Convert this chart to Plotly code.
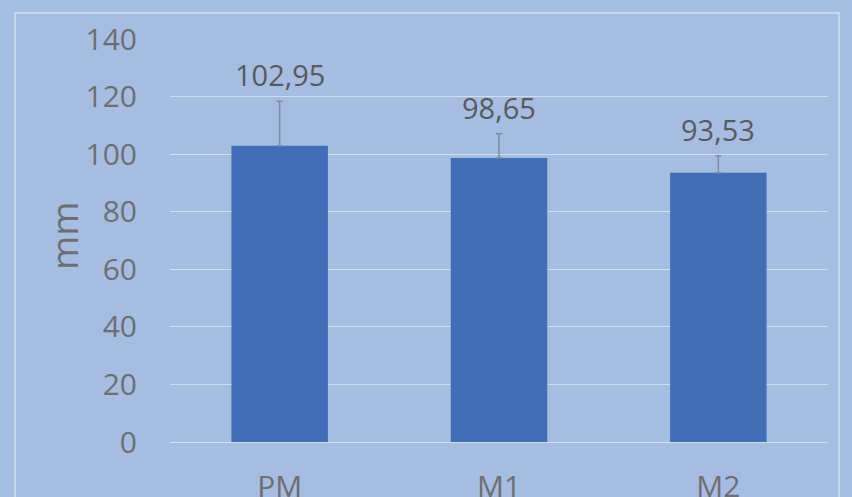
import plotly.graph_objects as go

categories = ["PM", "M1", "M2"]
means = [102.95, 98.65, 93.53]
errors = [15.4, 8.4, 5.9]
y_ticks = [0, 20, 40, 60, 80, 100, 120, 140]

BG = "#A6BDE2"
BAR = "#416EB6"
GRID = "#D6DCE6"
TICK_TXT = "#6F6F6F"
LABEL_TXT = "#5A5A5A"
FONT = "Open Sans"

fig = go.Figure()

fig.add_trace(go.Bar(
    x=categories,
    y=means,
    width=0.44,
    marker=dict(color=BAR, line=dict(width=0)),
    error_y=dict(type="data", array=errors, symmetric=False, arrayminus=[0, 0, 0],
                 color="#7D8CA3", thickness=1.5, width=3),
    hoverinfo="skip",
))

# value labels sitting above the error bars
for c, m, e in zip(categories, means, errors):
    fig.add_annotation(
        x=c, y=m + e, text=f"{m:.2f}".replace(".", ","),
        showarrow=False, yanchor="bottom", yshift=5,
        font=dict(family=FONT, size=29, color=LABEL_TXT),
    )

# y axis title
fig.add_annotation(
    x=-0.1626, y=0.511, xref="paper", yref="paper", text="mm",
    textangle=-90, showarrow=False, xanchor="center", yanchor="middle",
    font=dict(family=FONT, size=37, color=TICK_TXT),
)

# outer chart frame
fig.add_shape(type="rect", xref="paper", yref="paper",
              x0=-0.2356, x1=1.0167, y0=-0.3, y1=1.0645,
              line=dict(color="#D3DBEA", width=1.5), layer="below")

fig.update_layout(
    width=852,
    height=497,
    margin=dict(l=170, r=24, t=39, b=55),
    paper_bgcolor=BG,
    plot_bgcolor=BG,
    showlegend=False,
    font=dict(family=FONT, color=TICK_TXT),
    xaxis=dict(
        showgrid=False,
        showline=False,
        zeroline=False,
        ticks="",
        automargin=False,
        ticklabelstandoff=24,
        tickfont=dict(family=FONT, size=30, color=TICK_TXT),
    ),
    yaxis=dict(
        range=[0, 140],
        tickvals=y_ticks,
        showgrid=True,
        gridcolor=GRID,
        gridwidth=1.2,
        zeroline=True,
        zerolinecolor=GRID,
        zerolinewidth=1.2,
        showline=False,
        ticks="",
        automargin=False,
        ticklabelstandoff=32,
        tickfont=dict(family=FONT, size=30, color=TICK_TXT),
    ),
)

# drop the default page margin so the figure fills the window exactly
fig.write_html("out.html", config={"displayModeBar": False},
               post_script="document.body.style.margin='0';")
